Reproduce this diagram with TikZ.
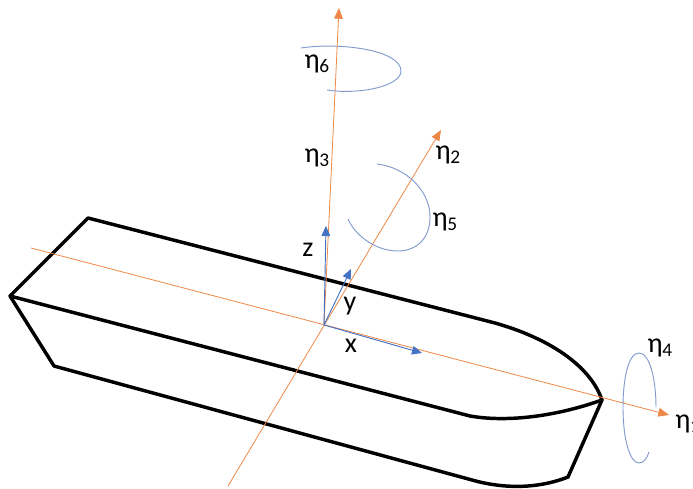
\documentclass[tikz,border=0pt]{standalone}
\usepackage{fontspec}
\setmainfont{Carlito}
\usetikzlibrary{arrows.meta}
\definecolor{axisor}{RGB}{237,135,70}
\definecolor{frameb}{RGB}{68,114,196}
\definecolor{rotb}{RGB}{130,155,205}
\tikzset{
  hull/.style={line width=2.6pt,black,line join=round,line cap=round},
  axisline/.style={draw=axisor,line width=0.6pt,-{Triangle[length=8pt,width=6.5pt]}},
  framearrow/.style={draw=frameb,line width=0.7pt,-{Triangle[length=7.5pt,width=6.5pt]}},
  rotation/.style={draw=rotb,line width=0.7pt},
  lab/.style={inner sep=0pt,font=\fontsize{21}{23}\selectfont,text=black},
}
\newcommand{\etasub}[1]{η\kern-0.2pt\raisebox{-3pt}{\fontsize{14.5}{15}\selectfont #1}}
\begin{document}
\begin{tikzpicture}[x=0.75pt,y=-0.75pt]
\useasboundingbox (0,0) rectangle (693,489);
% hull
\coordinate (stern) at (10,296);
\coordinate (deckL) at (88,218);
\coordinate (deckR) at (495,323);
\coordinate (bow) at (602,400);
\coordinate (sideM) at (470,416);
\coordinate (keelL) at (54,366);
\coordinate (keelM) at (472,480);
\coordinate (keelR) at (568,477);
\draw[hull] (stern) -- (deckL) -- (deckR) .. controls (548,338) and (590,365) .. (bow);
\draw[hull] (stern) -- (sideM) .. controls (510,423) and (560,415) .. (bow);
\draw[hull] (stern) -- (keelL) -- (keelM) .. controls (500,488) and (535,490) .. (keelR) -- (bow);
% axes
\coordinate (O) at (324,325);
\coordinate (e1s) at (31,248);
\coordinate (e1e) at (669,415);
\coordinate (e2s) at (228,486);
\coordinate (e2e) at (441,130);
\coordinate (e3e) at (339,8);
\draw[axisline] (e1s) -- (e1e);
\draw[axisline] (e2s) -- (e2e);
\draw[axisline] (O) -- (e3e);
% body frame
\coordinate (zt) at (326,226);
\coordinate (yt) at (351,269);
\coordinate (xt) at (422,353);
\draw[framearrow] (O) -- (zt);
\draw[framearrow] (O) -- (yt);
\draw[framearrow] (O) -- (xt);
% rotations
\draw[rotation] (301,48) .. controls (340,42) and (401,50) .. (401,71)
  .. controls (401,86) and (360,95) .. (327,90);
\draw[rotation] (377,164) .. controls (405,167) and (430,190) .. (430,217)
  .. controls (430,240) and (415,251) .. (398,251)
  .. controls (375,251) and (355,235) .. (348,219);
\draw[rotation] (656,407) .. controls (656,380) and (650,353) .. (639,353)
  .. controls (628,353) and (623,380) .. (623,407)
  .. controls (623,440) and (630,463) .. (639,463)
  .. controls (644,463) and (647,458) .. (649,452);
% labels
\node[lab] (l6) at (317,64) {\etasub{6}};
\node[lab] (l3) at (317,158) {\etasub{3}};
\node[lab] (l2) at (448,155) {\etasub{2}};
\node[lab] (l5) at (445,222) {\etasub{5}};
\node[lab] (l4) at (660,348) {\etasub{4}};
\node[lab,anchor=west] (l1) at (675,424) {\etasub{1}};
\node[lab] (lz) at (308,250) {z};
\node[lab] (ly) at (350,306) {y};
\node[lab] (lx) at (351,346) {x};
\end{tikzpicture}
\end{document}
